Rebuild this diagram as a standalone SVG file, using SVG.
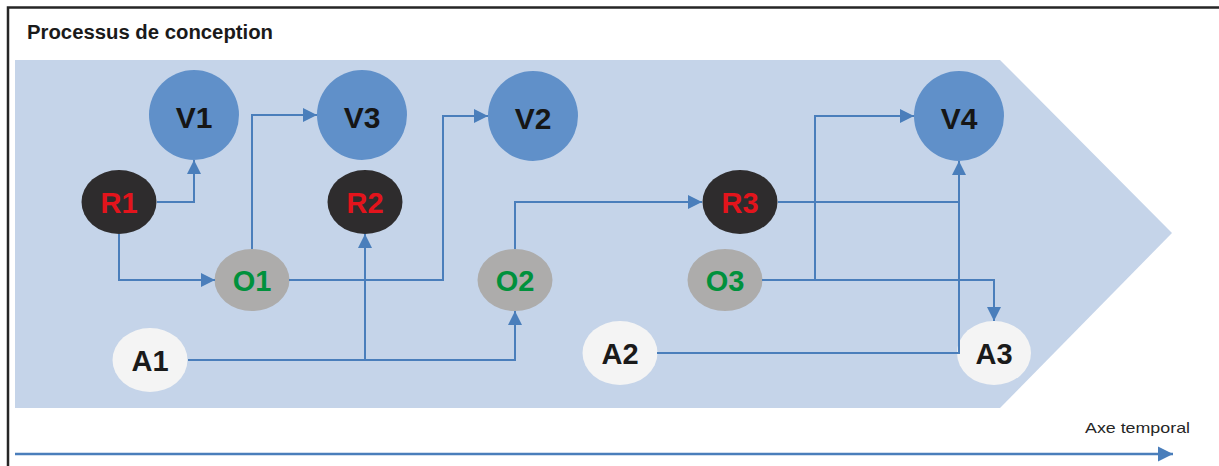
<svg xmlns="http://www.w3.org/2000/svg" width="1219" height="466" viewBox="0 0 1219 466">
  <defs>
    <marker id="arr" viewBox="0 0 10 10" refX="10" refY="5" markerWidth="14" markerHeight="15" markerUnits="userSpaceOnUse" orient="auto">
      <path d="M0,0 L10,5 L0,10 z" fill="#4a7ebb"/>
    </marker>
    <marker id="arrT" viewBox="0 0 10 10" refX="10" refY="5" markerWidth="15" markerHeight="16" markerUnits="userSpaceOnUse" orient="auto">
      <path d="M0,0 L10,5 L0,10 z" fill="#4a7ebb"/>
    </marker>
  </defs>
  <style>
    .lbl { font-family: "Liberation Sans", Arial, sans-serif; font-weight: bold; text-anchor: middle; }
    .v circle { fill: #6090c9; }
    .v text { fill: #161616; font-size: 30px; }
    .r ellipse { fill: #2e2c2d; }
    .r text { fill: #e3141c; font-size: 29px; }
    .o ellipse { fill: #adacab; }
    .o text { fill: #00913c; font-size: 29px; }
    .a ellipse { fill: #f4f4f4; }
    .a text { fill: #1a1a1a; font-size: 29px; }
    .conn path { fill: none; stroke: #4a7ebb; stroke-width: 2; }
  </style>
  <rect x="0" y="0" width="1219" height="466" fill="#ffffff"/>
  <!-- frame -->
  <path d="M8,466 L8,7.5 L1219,7.5" fill="none" stroke="#262626" stroke-width="2.5"/>
  <text x="27" y="39" font-family="'Liberation Sans', Arial, sans-serif" font-weight="bold" font-size="20" fill="#1a1a1a" textLength="246" lengthAdjust="spacingAndGlyphs">Processus de conception</text>
  <!-- chevron -->
  <polygon points="15,60 1000,60 1172,233 1000,408 15,408" fill="#c5d4e9"/>

  <g id="V1" class="v"><circle cx="194" cy="115" r="45"/><text class="lbl" x="194" y="128">V1</text></g>
  <g id="V3" class="v"><circle cx="362" cy="115" r="45"/><text class="lbl" x="362" y="128">V3</text></g>
  <g id="V2" class="v"><circle cx="533" cy="116" r="45"/><text class="lbl" x="533" y="129">V2</text></g>
  <g id="V4" class="v"><circle cx="959" cy="116" r="45"/><text class="lbl" x="959" y="129">V4</text></g>

  <g id="R1" class="r"><ellipse cx="119" cy="202" rx="37.5" ry="32"/><text class="lbl" x="119" y="213">R1</text></g>
  <g id="R2" class="r"><ellipse cx="365" cy="202" rx="37.5" ry="32"/><text class="lbl" x="365" y="213">R2</text></g>
  <g id="R3" class="r"><ellipse cx="740" cy="202" rx="37.5" ry="32"/><text class="lbl" x="740" y="213">R3</text></g>

  <g id="O1" class="o"><ellipse cx="252" cy="280" rx="37.5" ry="31"/><text class="lbl" x="252" y="291">O1</text></g>
  <g id="O2" class="o"><ellipse cx="515" cy="280" rx="37.5" ry="31"/><text class="lbl" x="515" y="291">O2</text></g>
  <g id="O3" class="o"><ellipse cx="725" cy="280" rx="37.5" ry="31"/><text class="lbl" x="725" y="291">O3</text></g>

  <g id="A1" class="a"><ellipse cx="150" cy="360" rx="37.5" ry="32"/><text class="lbl" x="150" y="371">A1</text></g>
  <g id="A2" class="a"><ellipse cx="620" cy="353" rx="37.5" ry="32"/><text class="lbl" x="620" y="364">A2</text></g>
  <g id="A3" class="a"><ellipse cx="994" cy="353" rx="37" ry="32"/><text class="lbl" x="994" y="364">A3</text></g>

  <g id="connectors" class="conn">
    <path d="M157,202 H194 V160" marker-end="url(#arr)"/>
    <path d="M119,234 V280 H215" marker-end="url(#arr)"/>
    <path d="M252,249 V115 H317" marker-end="url(#arr)"/>
    <path d="M289,280 H443 V116 H488" marker-end="url(#arr)"/>
    <path d="M188,360 H365 V234" marker-end="url(#arr)"/>
    <path d="M365,360 H515 V311" marker-end="url(#arr)"/>
    <path d="M515,249 V202 H702" marker-end="url(#arr)"/>
    <path d="M778,202 H959 V161" marker-end="url(#arr)"/>
    <path d="M762,280 H815 V116 H914" marker-end="url(#arr)"/>
    <path d="M815,280 H994 V321" marker-end="url(#arr)"/>
    <path d="M657,353 H959 V202"/>
  </g>

  <g id="axe">
    <path d="M15,454 H1173" fill="none" stroke="#4a7ebb" stroke-width="2.5" marker-end="url(#arrT)"/>
    <text x="1085" y="433" font-family="'Liberation Sans', Arial, sans-serif" font-size="15" fill="#262626" textLength="105" lengthAdjust="spacingAndGlyphs">Axe temporal</text>
  </g>
</svg>
